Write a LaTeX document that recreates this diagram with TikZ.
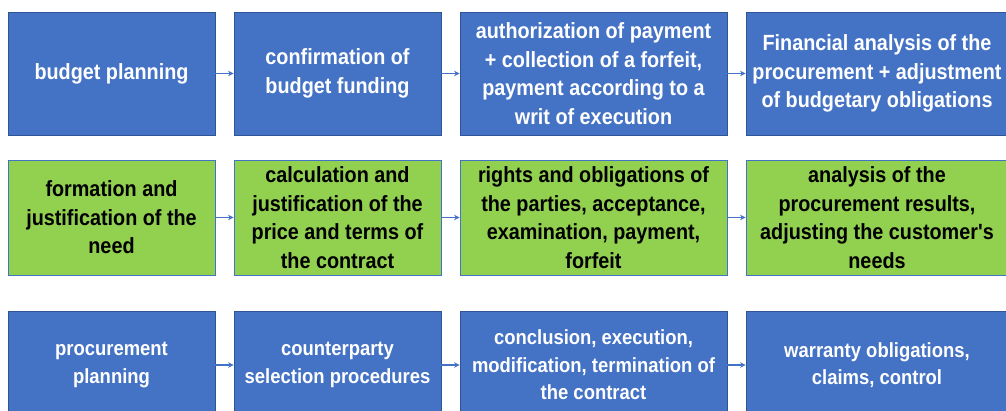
\documentclass[tikz,border=0pt]{standalone}
\usepackage{fontspec}
\newfontfamily\boxfont{Liberation Sans}[FakeStretch=0.9]
\usetikzlibrary{arrows.meta}
\definecolor{boxblue}{HTML}{4472C4}
\definecolor{boxgreen}{HTML}{92D050}
\definecolor{edgeblue}{HTML}{2F5597}
\definecolor{linkblue}{HTML}{4472C4}
\begin{document}
\begin{tikzpicture}[x=1pt,y=1pt,
  card/.style={rectangle, inner sep=0pt, align=center, line width=0.8pt,
    font=\boxfont\bfseries\fontsize{22}{28.5}\selectfont},
  smalltext/.style={font=\boxfont\bfseries\fontsize{20.5}{27.5}\selectfont},
  bluecard/.style={card, fill=boxblue, draw=edgeblue, text=white},
  greencard/.style={card, fill=boxgreen, draw=linkblue, text=black},
  narrow/.style={minimum width=207pt},
  wide/.style={minimum width=267pt},
  last/.style={minimum width=262pt},
  rowA/.style={minimum height=123pt},
  rowB/.style={minimum height=115pt},
  rowC/.style={minimum height=108pt, smalltext},
  link/.style={draw=linkblue, line width=1.3pt, -{Stealth[length=5.5pt,width=5.5pt]}}
]
\useasboundingbox (0,0) rectangle (1006,410);
\clip (0,0) rectangle (1006,410);
\fill[white] (0,0) rectangle (1006,410);

% budget line
\node[bluecard, narrow, rowA] (b1) at (111.5,336.5) {budget planning};
\node[bluecard, narrow, rowA] (b2) at (337.5,336.5) {confirmation of\\budget funding};
\node[bluecard, wide, rowA] (b3) at (593.5,336.5) {authorization of payment\\+ collection of a forfeit,\\payment according to a\\writ of execution};
\node[bluecard, last, rowA] (b4) at (877,336.5) {Financial analysis of the\\procurement + adjustment\\of budgetary obligations};

% need and contract line
\node[greencard, narrow, rowB] (g1) at (111.5,192.5) {formation and\\justification of the\\need};
\node[greencard, narrow, rowB] (g2) at (337.5,192.5) {calculation and\\justification of the\\price and terms of\\the contract};
\node[greencard, wide, rowB] (g3) at (593.5,192.5) {rights and obligations of\\the parties, acceptance,\\examination, payment,\\forfeit};
\node[greencard, last, rowB] (g4) at (877,192.5) {analysis of the\\procurement results,\\adjusting the customer's\\needs};

% procurement line
\node[bluecard, narrow, rowC] (p1) at (111.5,45) {procurement\\planning};
\node[bluecard, narrow, rowC] (p2) at (337.5,45) {counterparty\\selection procedures};
\node[bluecard, wide, rowC] (p3) at (593.5,45) {conclusion, execution,\\modification, termination of\\the contract};
\node[bluecard, last, rowC] (p4) at (877,45) {warranty obligations,\\claims, control};

\foreach \r in {b,g,p}{
  \draw[link] (\r1) -- (\r2);
  \draw[link] (\r2) -- (\r3);
  \draw[link] (\r3) -- (\r4);
}
\end{tikzpicture}
\end{document}
